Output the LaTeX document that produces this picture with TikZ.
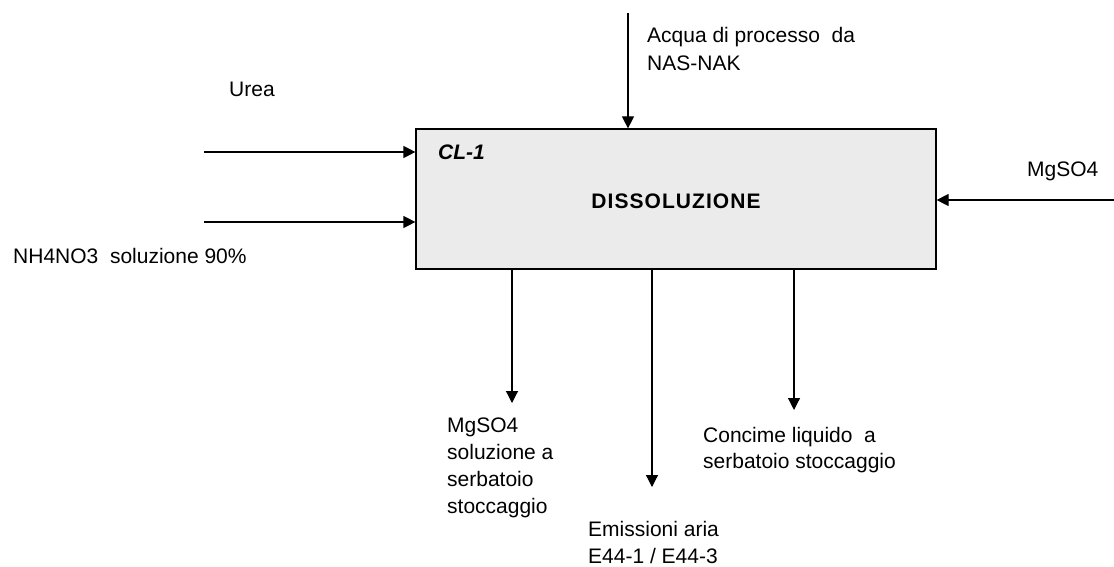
\documentclass[tikz,border=0pt]{standalone}
\usepackage{fontspec}
\setmainfont{Liberation Sans}
\usetikzlibrary{arrows.meta,positioning,calc}

\begin{document}
\begin{tikzpicture}[x=1pt, y=-1pt,
    unit/.style={rectangle, draw, line width=1.2pt, fill=black!8, minimum width=520pt, minimum height=140pt, inner sep=0pt},
    flow/.style={-{Triangle[length=12pt,width=12pt]}, line width=1.2pt},
    lbl/.style={anchor=base west, inner sep=0pt, align=left, font=\fontsize{21}{27.5}\selectfont}
]
    \useasboundingbox (0,0) rectangle (1114,567);
    \node[unit] (cl1) at (676,199) {};
    \node[lbl, font=\fontsize{21}{27.5}\selectfont\bfseries\itshape] (tag) at (438,160) {CL-1};
    \node[lbl, anchor=base, font=\fontsize{21}{27.5}\selectfont\bfseries\addfontfeature{LetterSpace=5}] (name) at (676,208) {DISSOLUZIONE};

    % streams in
    \coordinate (urea) at (204,152);
    \coordinate (nitr) at (204,222);
    \coordinate (water) at (628,13);
    \coordinate (mgin) at (1114,200);
    \draw[flow] (urea) -- (urea -| cl1.west);
    \draw[flow] (nitr) -- (nitr -| cl1.west);
    \draw[flow] (water) -- (water |- cl1.north);
    \draw[flow] (mgin) -- (mgin -| cl1.east);

    % streams out
    \coordinate (mgout) at (512,403);
    \coordinate (air) at (652,487);
    \coordinate (fert) at (794,410);
    \draw[flow] (mgout |- cl1.south) -- (mgout);
    \draw[flow] (air |- cl1.south) -- (air);
    \draw[flow] (fert |- cl1.south) -- (fert);

    % labels (multi-line ones sit on their last baseline)
    \node[lbl] (lurea) at (229,97) {Urea};
    \node[lbl] (lnitr) at (13,263) {NH4NO3\ \ soluzione 90\%};
    \node[lbl, font=\fontsize{21}{28}\selectfont] (lwater) at (647,71) {Acqua di processo\ \ da\\NAS-NAK};
    \node[lbl] (lmgin) at (1027,177) {MgSO4};
    \node[lbl, font=\fontsize{21}{27}\selectfont] (lmgout) at (447,513) {MgSO4\\soluzione a\\serbatoio\\stoccaggio};
    \node[lbl, font=\fontsize{21}{26.5}\selectfont] (lair) at (588,563) {Emissioni aria\\E44-1 / E44-3};
    \node[lbl, font=\fontsize{21}{25.5}\selectfont] (lfert) at (703,468) {Concime liquido\ \ a\\serbatoio stoccaggio};
\end{tikzpicture}
\end{document}
